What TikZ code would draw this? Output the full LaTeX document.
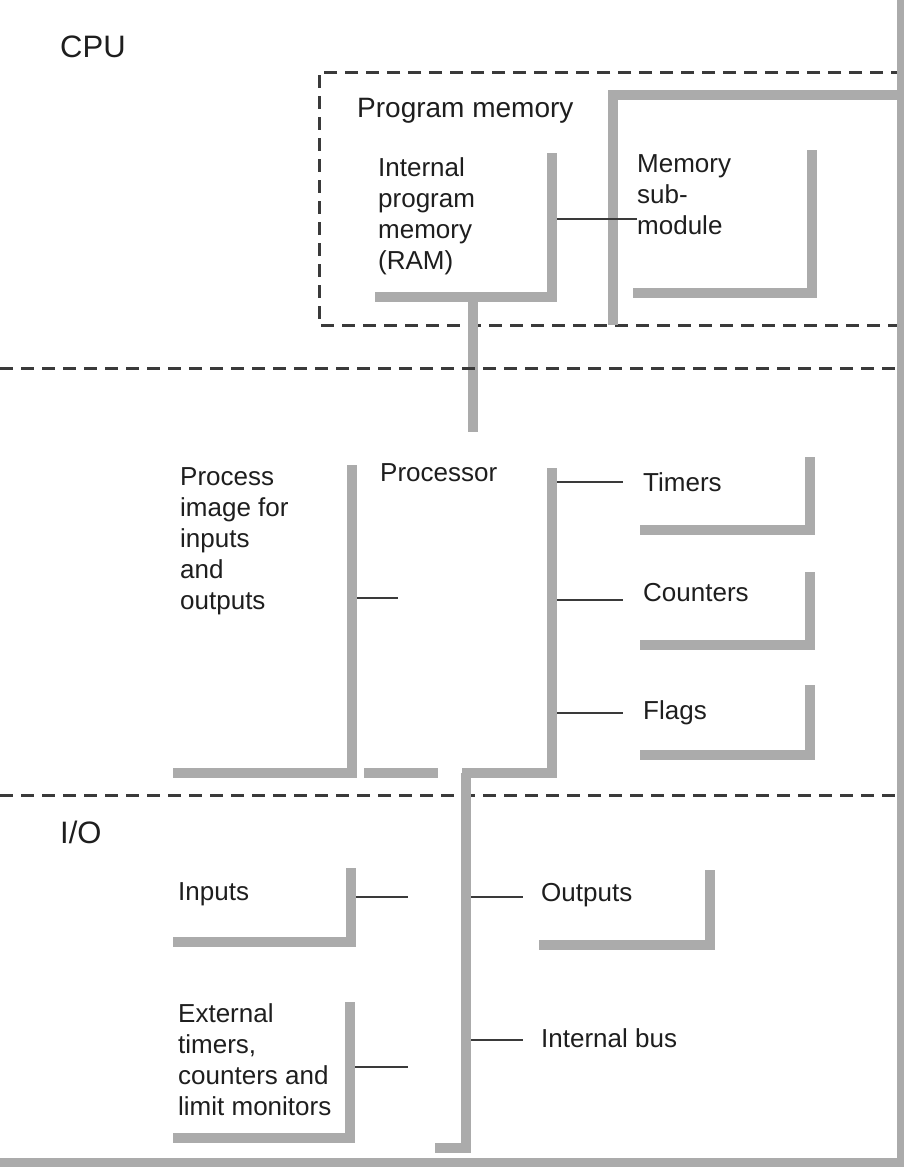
\documentclass[tikz,border=0pt]{standalone}
\usepackage{fontspec}
\setmainfont{Liberation Sans}
\usetikzlibrary{positioning}
\definecolor{plcshade}{HTML}{ABABAB}
\definecolor{plcline}{HTML}{3A3A3A}
\definecolor{plctext}{HTML}{1E1E1E}

\begin{document}
\begin{tikzpicture}[x=1pt, y=1pt,
  every node/.style={font=\fontsize{26}{31}\selectfont, text=plctext},
  lbl/.style={anchor=north west, align=left, inner sep=0pt},
  areatitle/.style={lbl, font=\fontsize{31}{36}\selectfont},
  shadowbar/.style={draw=plcshade, line width=10pt},
  boundary/.style={draw=plcline, line width=3pt, dash pattern=on 13pt off 8pt},
  tick/.style={draw=plcline, line width=2.5pt},
]
\useasboundingbox (0,0) rectangle (904,-1167);
\fill[white] (0,0) rectangle (904,-1167);

% CPU: program memory
\node[areatitle] (cpu) at (60,-36) {CPU};
\node[lbl, font=\fontsize{28}{33}\selectfont] (progmem) at (357,-98) {Program memory};
\node[lbl] (intmem) at (378,-157) {Internal\\program\\memory\\(RAM)};
\node[lbl] (submod) at (637,-154) {Memory\\sub-\\module};

\draw[boundary] (904,-72) -| (319,-325) -- (904,-325);
\draw[shadowbar] (904,-95) -| (613,-325);
\draw[shadowbar] (552,-153) |- (375,-297);
\draw[shadowbar] (812,-150) |- (633,-293);
\draw[shadowbar] (473,-297) -- (473,-432);

\coordinate (b-intmem) at (557,-219);
\draw[tick] (b-intmem) -- (b-intmem -| submod.west);

% CPU: processor
\draw[boundary] (0,-368) -- (904,-368);

\node[lbl] (procimg) at (180,-467) {Process\\image for\\inputs\\and\\outputs};
\node[lbl] (proc) at (380,-463) {Processor};
\node[lbl] (timers) at (643,-472) {Timers};
\node[lbl] (counters) at (643,-583) {Counters};
\node[lbl] (flags) at (643,-700) {Flags};

\draw[shadowbar] (352,-465) |- (173,-773);
\draw[shadowbar] (552,-468) |- (462,-773);
\draw[shadowbar] (364,-773) -- (438,-773);
\draw[shadowbar] (810,-457) |- (640,-530);
\draw[shadowbar] (810,-572) |- (640,-645);
\draw[shadowbar] (810,-685) |- (640,-755);

\coordinate (b-procimg) at (357,-598);
\coordinate (f-procimg) at (398,-598);
\coordinate (b-timers) at (557,-482);
\coordinate (b-counters) at (557,-600);
\coordinate (b-flags) at (557,-713);
\draw[tick] (b-procimg) -- (f-procimg);
\draw[tick, shorten >=20pt] (b-timers) -- (b-timers -| timers.west);
\draw[tick, shorten >=20pt] (b-counters) -- (b-counters -| counters.west);
\draw[tick, shorten >=20pt] (b-flags) -- (b-flags -| flags.west);

% I/O
\draw[boundary] (0,-795) -- (904,-795);

\node[areatitle] (io) at (60,-821) {I/O};
\node[lbl] (inputs) at (178,-882) {Inputs};
\node[lbl] (outputs) at (541,-883) {Outputs};
\node[lbl] (extern) at (178,-1003) {External\\timers,\\counters and\\limit monitors};
\node[lbl] (bus) at (541,-1028) {Internal bus};

\draw[shadowbar] (351,-868) |- (173,-942);
\draw[shadowbar] (710,-870) |- (539,-945);
\draw[shadowbar] (350,-1002) |- (173,-1138);
\draw[shadowbar] (466,-773) |- (435,-1148);

\coordinate (b-inputs) at (356,-897);
\coordinate (f-inputs) at (408,-897);
\coordinate (b-extern) at (355,-1067);
\coordinate (f-extern) at (408,-1067);
\coordinate (b-outputs) at (471,-897);
\coordinate (b-bus) at (471,-1040);
\draw[tick] (b-inputs) -- (f-inputs);
\draw[tick] (b-extern) -- (f-extern);
\draw[tick, shorten >=18pt] (b-outputs) -- (b-outputs -| outputs.west);
\draw[tick, shorten >=18pt] (b-bus) -- (b-bus -| bus.west);

% outer frame of the module
\draw[shadowbar] (0,-1163) -- (901,-1163);
\draw[shadowbar, line width=8pt] (901,0) -- (901,-1167);

\end{tikzpicture}
\end{document}
